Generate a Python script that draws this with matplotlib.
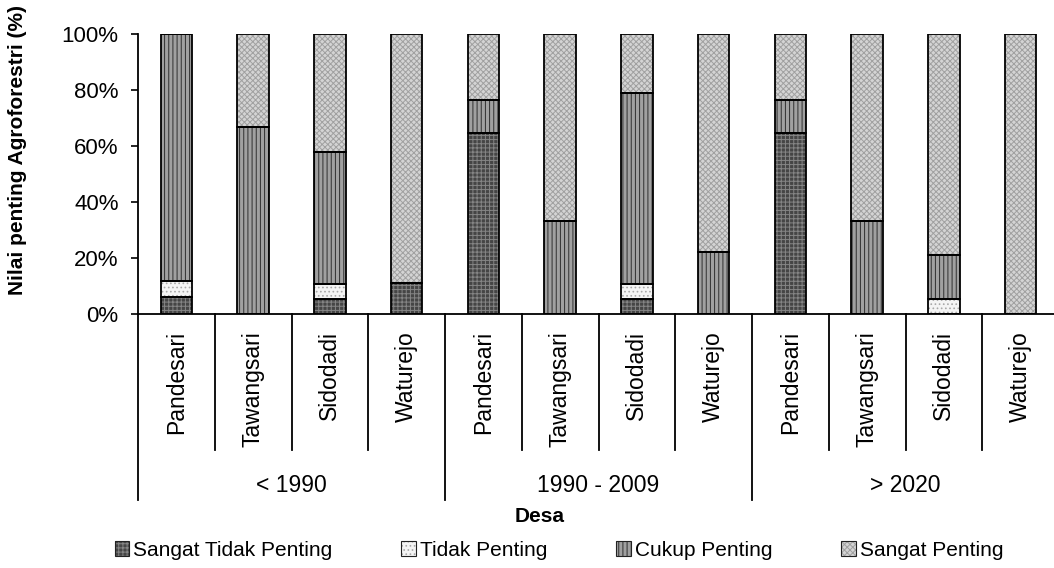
import matplotlib
matplotlib.use("Agg")
import matplotlib.pyplot as plt
from matplotlib.patches import Patch
from matplotlib.ticker import PercentFormatter

plt.rcParams['font.family'] = ['Liberation Sans', 'DejaVu Sans']
plt.rcParams['hatch.linewidth'] = 0.7

periods = ["< 1990", "1990 - 2009", "> 2020"]
villages = ["Pandesari", "Tawangsari", "Sidodadi", "Waturejo"]

# share of respondents (%) per period x village, in the order of `villages`
sangat_tidak_penting = [5.9, 0, 5.3, 11.1, 64.7, 0, 5.3, 0, 64.7, 0, 0, 0]
tidak_penting = [5.9, 0, 5.3, 0, 0, 0, 5.3, 0, 0, 0, 5.3, 0]
cukup_penting = [88.2, 66.7, 47.4, 0, 11.8, 33.3, 68.4, 22.2, 11.8, 33.3, 15.8, 0]
sangat_penting = [0, 33.3, 42.1, 88.9, 23.5, 66.7, 21.1, 77.8, 23.5, 66.7, 78.9, 100]

series = [
    ("Sangat Tidak Penting", sangat_tidak_penting, "#454545", "++++", "#858585"),
    ("Tidak Penting", tidak_penting, "#f4f4f4", "....", "#a8a8a8"),
    ("Cukup Penting", cukup_penting, "#a0a0a0", "||||", "#2e2e2e"),
    ("Sangat Penting", sangat_penting, "#d4d4d4", "xxxxxx", "#a0a0a0"),
]

W, H = 1054, 568
fig = plt.figure(figsize=(W / 100, H / 100), dpi=100)
left_px, right_px, top_px, bot_px = 138, 1059, 34, 314
ax = fig.add_axes([left_px / W, 1 - bot_px / H,
                   (right_px - left_px) / W, (bot_px - top_px) / H])

n = len(periods) * len(villages)
xs = [i + 0.5 for i in range(n)]
width = 0.41
bottom = [0.0] * n
handles = []
for name, vals, face, hatch, hcol in series:
    with plt.rc_context({'hatch.color': hcol}):
        ax.bar(xs, vals, width, bottom=bottom, color=face,
               hatch=hatch, linewidth=0, zorder=2)
        hp = Patch(facecolor=face, hatch=hatch, linewidth=0)
    ax.bar(xs, vals, width, bottom=bottom, fill=False,
           edgecolor="black", linewidth=1.3, zorder=3)
    op = Patch(fill=False, edgecolor="#222222", linewidth=0.8)
    handles.append((hp, op))
    bottom = [b + v for b, v in zip(bottom, vals)]

ax.set_xlim(0, n)
ax.set_ylim(0, 100)
ax.yaxis.set_major_formatter(PercentFormatter(decimals=0))
ax.set_yticks(range(0, 101, 20))
ax.tick_params(axis="y", length=5, width=1.2, labelsize=16, pad=9)
ax.set_xticks([])
for s in ("top", "right"):
    ax.spines[s].set_visible(False)
ax.spines["left"].set_linewidth(1.3)
ax.spines["bottom"].set_linewidth(1.3)

# category dividers and labels below the axis
tr = ax.get_xaxis_transform()
ax_h = bot_px - top_px
inner_end = -(450 - bot_px) / ax_h
outer_end = -(500 - bot_px) / ax_h
for k in range(n + 1):
    end = outer_end if k % len(villages) == 0 else inner_end
    ax.plot([k, k], [0, end], transform=tr, color="black", lw=1.3,
            clip_on=False)
for i, x in enumerate(xs):
    ax.text(x, -(331 - bot_px) / ax_h, villages[i % len(villages)],
            transform=tr, rotation=90, ha="center", va="top", fontsize=16.5)
for g, p in enumerate(periods):
    cx = g * len(villages) + len(villages) / 2
    ax.text(cx, -(485 - bot_px) / ax_h, p, transform=tr,
            ha="center", va="center", fontsize=16.5)

fig.text(540 / W, 1 - 517 / H, "Desa", ha="center", va="center",
         fontsize=15, fontweight="bold")
fig.text(18 / W, 1 - 150 / H, "Nilai penting Agroforestri (%)",
         rotation=90, ha="center", va="center", fontsize=15,
         fontweight="bold")

fig.legend(handles, [s[0] for s in series], loc="center",
           bbox_to_anchor=(559 / W, 1 - 550 / H), ncol=4, frameon=False,
           fontsize=15, handlelength=0.7, handleheight=0.7,
           handletextpad=0.2, columnspacing=3.3, borderpad=0)

fig.savefig("out.png", dpi=100)
